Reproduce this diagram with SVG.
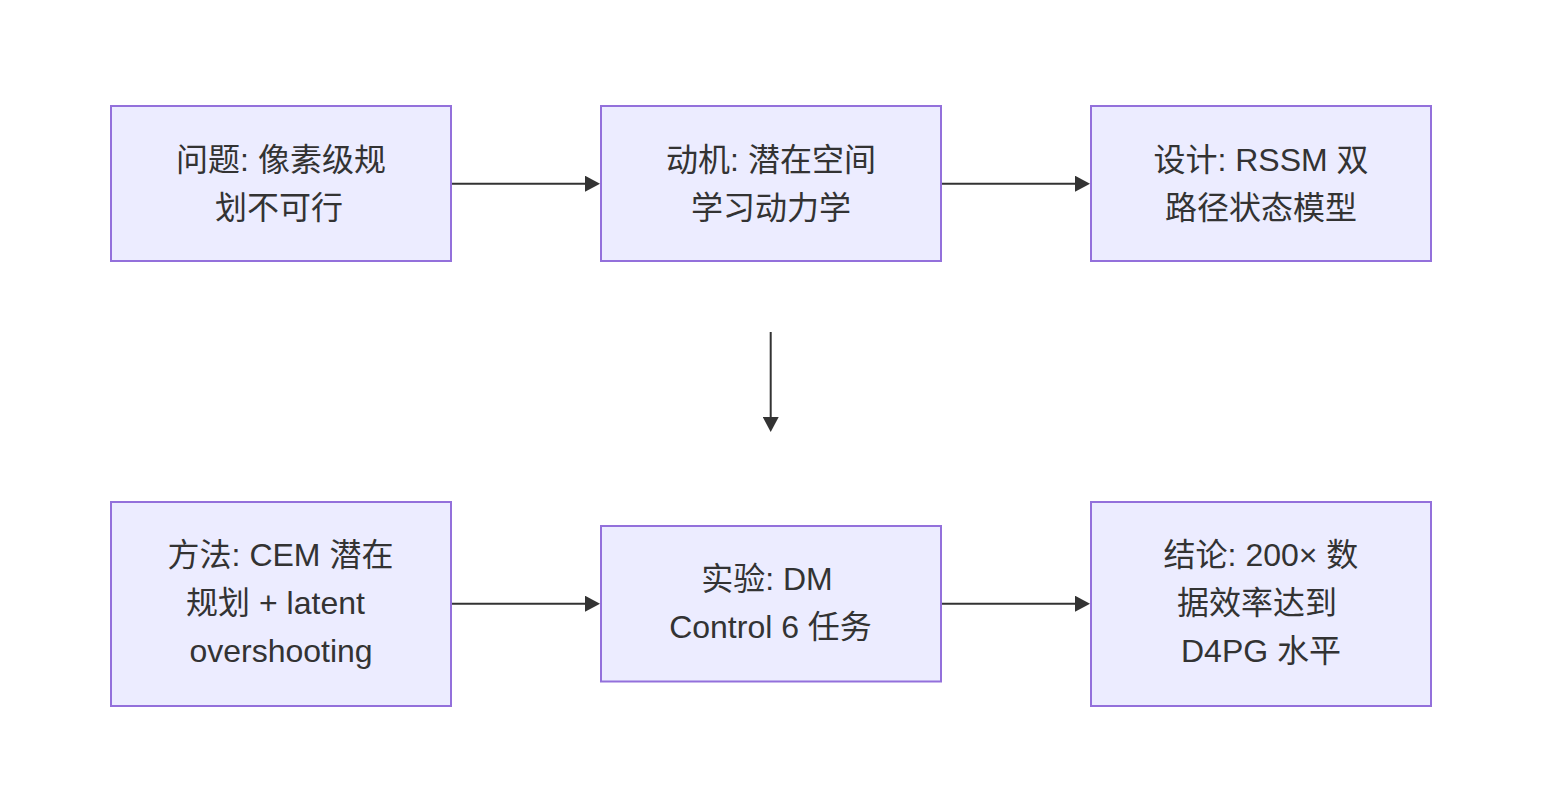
<svg xmlns="http://www.w3.org/2000/svg" width="1542" height="812" viewBox="0 0 1542 812">
<style>
.box{fill:#ECECFF;stroke:#9370DB;stroke-width:2}
.lbl{font-family:"Liberation Sans","Noto Sans CJK SC",sans-serif;font-size:32px;fill:#333;text-anchor:middle}
.edge{stroke:#333;stroke-width:2;fill:none}
</style>
<defs>
<marker id="arr" viewBox="0 0 10 10" refX="6" refY="5" markerUnits="userSpaceOnUse" markerWidth="15" markerHeight="16" preserveAspectRatio="none" orient="auto">
<path d="M0,0 L10,5 L0,10 z" fill="#333"/>
</marker>
</defs>
<rect width="1542" height="812" fill="#fff"/>
<g id="edges">
<line class="edge" x1="452" y1="183.7" x2="594" y2="183.7" marker-end="url(#arr)"/>
<line class="edge" x1="942" y1="183.7" x2="1084" y2="183.7" marker-end="url(#arr)"/>
<line class="edge" x1="770.7" y1="332" x2="770.7" y2="426" marker-end="url(#arr)"/>
<line class="edge" x1="452" y1="603.7" x2="594" y2="603.7" marker-end="url(#arr)"/>
<line class="edge" x1="942" y1="603.7" x2="1084" y2="603.7" marker-end="url(#arr)"/>
</g>
<g id="n1">
<rect class="box" x="111" y="106" width="340" height="155"/>
<text class="lbl" x="281" y="170.5">问题: 像素级规</text>
<text class="lbl" x="279" y="218.5">划不可行</text>
</g>
<g id="n2">
<rect class="box" x="601" y="106" width="340" height="155"/>
<text class="lbl" x="771" y="170.5">动机: 潜在空间</text>
<text class="lbl" x="771" y="218.5">学习动力学</text>
</g>
<g id="n3">
<rect class="box" x="1091" y="106" width="340" height="155"/>
<text class="lbl" x="1261" y="170.5">设计: RSSM 双</text>
<text class="lbl" x="1261" y="218.5">路径状态模型</text>
</g>
<g id="n4">
<rect class="box" x="111" y="502" width="340" height="204"/>
<text class="lbl" x="280.5" y="566">方法: CEM 潜在</text>
<text class="lbl" x="275.5" y="614">规划 + latent</text>
<text class="lbl" x="281" y="662">overshooting</text>
</g>
<g id="n5">
<rect class="box" x="601" y="526" width="340" height="155.5"/>
<text class="lbl" x="767" y="590">实验: DM</text>
<text class="lbl" x="770.5" y="638">Control 6 任务</text>
</g>
<g id="n6">
<rect class="box" x="1091" y="502" width="340" height="204"/>
<text class="lbl" x="1261" y="566">结论: 200× 数</text>
<text class="lbl" x="1257" y="614">据效率达到</text>
<text class="lbl" x="1261" y="662">D4PG 水平</text>
</g>
</svg>
